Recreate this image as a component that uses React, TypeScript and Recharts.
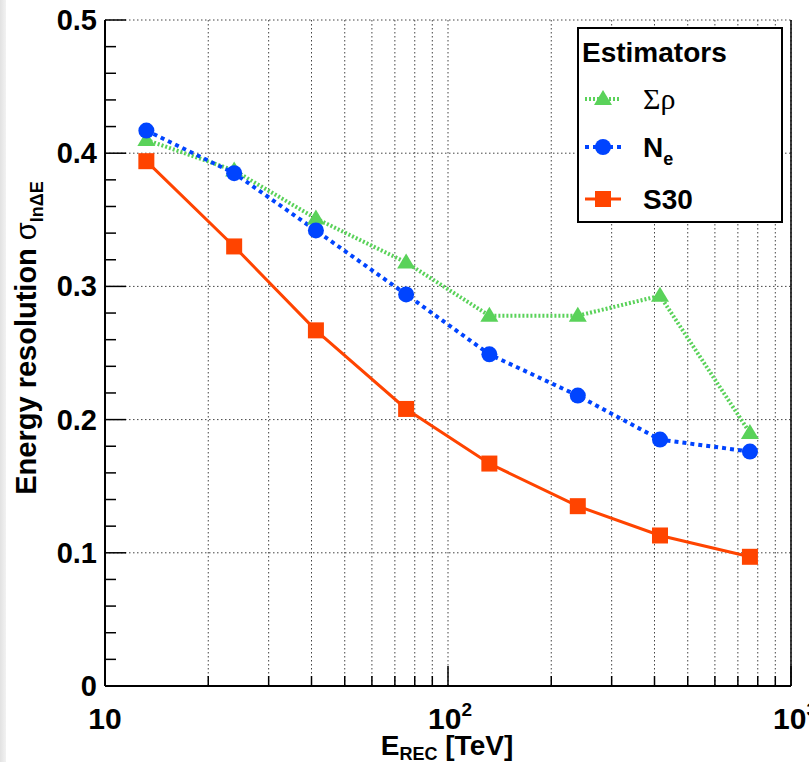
import React from "react";
import { LineChart, Line, XAxis, YAxis, CartesianGrid, ReferenceLine } from "recharts";

// reconstructed energy bins [TeV]
const energy = [13.2, 23.8, 41.2, 75.5, 132, 239, 415, 759];
// resolution sigma(ln dE) per estimator
const sigmaRho = [0.41, 0.387, 0.351, 0.318, 0.278, 0.278, 0.293, 0.19];
const ne = [0.417, 0.385, 0.342, 0.294, 0.249, 0.218, 0.185, 0.176];
const s30 = [0.394, 0.33, 0.267, 0.208, 0.167, 0.135, 0.113, 0.097];

const xTicks = [10, 20, 30, 40, 50, 60, 70, 80, 90, 100, 200, 300, 400, 500, 600, 700, 800, 900, 1000];
const xDecades = [10, 100, 1000];
const yMajor = [0, 0.1, 0.2, 0.3, 0.4, 0.5];
const yTicks: number[] = [];
for (let i = 0; i <= 25; i++) yTicks.push(Math.round(i * 2) / 100);

const data = energy.map((e, i) => ({ e, sigmaRho: sigmaRho[i], ne: ne[i], s30: s30[i] }));

const FONT = "'Liberation Sans', Arial, Helvetica, sans-serif";
const GREEN = "#5ad25a";
const BLUE = "#0044ff";
const RED = "#ff4400";

const Triangle = ({ cx, cy, fill }: any) => {
  if (cx == null || cy == null) return null;
  return <polygon points={`${cx - 9},${cy + 6} ${cx + 9},${cy + 6} ${cx},${cy - 9}`} fill={fill} />;
};
const Circle = ({ cx, cy, fill }: any) => {
  if (cx == null || cy == null) return null;
  return <circle cx={cx} cy={cy} r={8} fill={fill} />;
};
const Square = ({ cx, cy, fill }: any) => {
  if (cx == null || cy == null) return null;
  return <rect x={cx - 8} y={cy - 8} width={16} height={16} fill={fill} />;
};

const XTick = ({ x, y, payload }: any) => {
  const v = payload.value;
  const major = xDecades.includes(v);
  let label: React.ReactNode = null;
  let lx = x;
  let anchor = "middle";
  if (v === 10) label = "10";
  if (v === 100) {
    lx = x + 2;
    label = (
      <>
        10<tspan dy={-13} fontSize={19}>2</tspan>
      </>
    );
  }
  if (v === 1000) {
    lx = x - 18;
    anchor = "start";
    label = (
      <>
        10<tspan dy={-13} fontSize={19}>3</tspan>
      </>
    );
  }
  return (
    <g>
      <line x1={x} x2={x} y1={y} y2={y - (major ? 20 : 10)} stroke="#000" strokeWidth={1.5} />
      {label && (
        <text x={lx} y={y + 43} textAnchor={anchor} fontFamily={FONT} fontWeight="bold" fontSize={30} fill="#000">
          {label}
        </text>
      )}
    </g>
  );
};

const YTick = ({ x, y, payload }: any) => {
  const v = payload.value;
  const major = yMajor.some((m) => Math.abs(m - v) < 1e-6);
  return (
    <g>
      <line x1={x} x2={x + (major ? 21 : 11)} y1={y} y2={y} stroke="#000" strokeWidth={1.5} />
      {major && (
        <text x={x - 8} y={y + 10} textAnchor="end" fontFamily={FONT} fontWeight="bold" fontSize={29} fill="#000">
          {v === 0 ? "0" : v.toFixed(1)}
        </text>
      )}
    </g>
  );
};

const series = [
  { key: "sigmaRho", color: GREEN, dash: "2 2", width: 4, Dot: Triangle },
  { key: "ne", color: BLUE, dash: "4 4", width: 4, Dot: Circle },
  { key: "s30", color: RED, dash: undefined, width: 3, Dot: Square },
];

const LegendBox = () => {
  const rows = [
    { y: 72, s: series[0], text: <text x={66} y={82} fontFamily="'Liberation Serif', 'DejaVu Serif', serif" fontSize={30}>Σρ</text> },
    {
      y: 120,
      s: series[1],
      text: (
        <text x={66} y={130} fontFamily={FONT} fontWeight="bold" fontSize={28}>
          N<tspan dy={8} fontSize={18}>e</tspan>
        </text>
      ),
    },
    {
      y: 172,
      s: series[2],
      text: (
        <text x={66} y={182} fontFamily={FONT} fontWeight="bold" fontSize={28}>
          S30
        </text>
      ),
    },
  ];
  return (
    <svg width={206} height={196} style={{ display: "block" }}>
      <rect x={1} y={1} width={204} height={194} fill="#fff" stroke="#000" strokeWidth={2} />
      <text x={5} y={35} fontFamily={FONT} fontWeight="bold" fontSize={28}>
        Estimators
      </text>
      {rows.map((r, i) => (
        <g key={i}>
          <line x1={8} x2={44} y1={r.y} y2={r.y} stroke={r.s.color} strokeWidth={r.s.width} strokeDasharray={r.s.dash} />
          <r.s.Dot cx={26} cy={r.y} fill={r.s.color} />
          {r.text}
        </g>
      ))}
    </svg>
  );
};

export default function App() {
  return (
    <div style={{ position: "absolute", left: 0, top: 0, width: 809, height: 762, background: "#fff", overflow: "hidden" }}>
      <div style={{ position: "absolute", left: 0, top: 0, width: 6, height: 762, background: "linear-gradient(to right, #e2e2e2, #f2f2f2)" }} />
      <LineChart width={809} height={762} data={data} margin={{ top: 20, right: 18, left: 0, bottom: 0 }}>
        <CartesianGrid horizontal={false} vertical stroke="#444" strokeDasharray="1.5 2.5" />
        {[0.1, 0.2, 0.3, 0.4, 0.5].map((v) => (
          <ReferenceLine key={v} y={v} stroke="#444" strokeDasharray="1.5 2.5" />
        ))}
        <ReferenceLine x={1000} stroke="#000" strokeWidth={1.5} />
        <XAxis
          dataKey="e"
          type="number"
          scale="log"
          domain={[10, 1000]}
          allowDataOverflow
          ticks={xTicks}
          interval={0}
          tickLine={false}
          tickSize={0}
          tickMargin={0}
          height={76}
          axisLine={{ stroke: "#000", strokeWidth: 2 }}
          tick={<XTick />}
          label={{
            content: () => (
              <text x={447} y={755} textAnchor="middle" fontFamily={FONT} fontWeight="bold" fontSize={28} fill="#000">
                E<tspan dy={5} fontSize={18}>REC</tspan>
                <tspan dy={-5}> [TeV]</tspan>
              </text>
            ),
          }}
        />
        <YAxis
          type="number"
          domain={[0, 0.5]}
          ticks={yTicks}
          interval={0}
          tickLine={false}
          tickSize={0}
          tickMargin={0}
          width={105}
          axisLine={{ stroke: "#000", strokeWidth: 2 }}
          tick={<YTick />}
          label={{
            content: () => (
              <text
                x={36}
                y={338}
                transform="rotate(-90 36 338)"
                textAnchor="middle"
                fontFamily={FONT}
                fontWeight="bold"
                fontSize={29}
                fill="#000"
              >
                Energy resolution <tspan fontWeight="normal">σ</tspan>
                <tspan dy={7} fontSize={18}>lnΔE</tspan>
              </text>
            ),
          }}
        />
        {series.map((s) => (
          <Line
            key={s.key}
            dataKey={s.key}
            stroke={s.color}
            strokeWidth={s.width}
            strokeDasharray={s.dash}
            dot={(p: any) => <s.Dot key={p.index} cx={p.cx} cy={p.cy} fill={s.color} />}
            activeDot={false}
            isAnimationActive={false}
            type="linear"
          />
        ))}
      </LineChart>
      <div style={{ position: "absolute", left: 577, top: 27 }}>
        <LegendBox />
      </div>
    </div>
  );
}
